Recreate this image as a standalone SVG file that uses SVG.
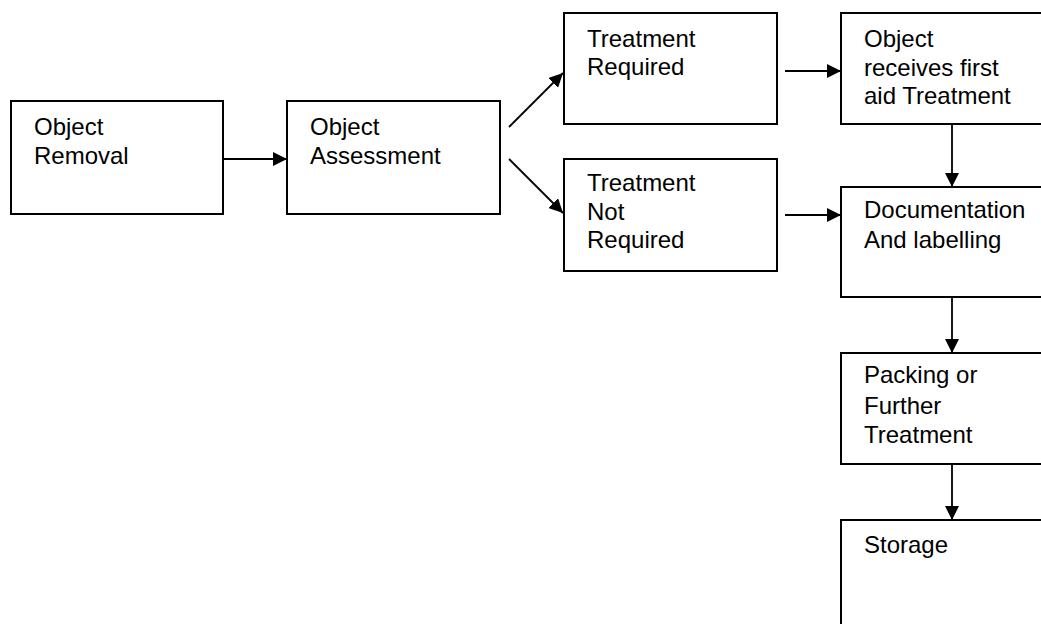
<svg xmlns="http://www.w3.org/2000/svg" width="1041" height="624" viewBox="0 0 1041 624">
<defs>
<style>
.box{fill:#fff;stroke:#000;stroke-width:2}
.t{font-family:"Liberation Sans",Arial,sans-serif;font-size:24px;fill:#000}
.c{stroke:#000;stroke-width:1.8;fill:none;marker-end:url(#ah)}
</style>
<marker id="ah" markerUnits="userSpaceOnUse" markerWidth="15" markerHeight="14" refX="14" refY="7" orient="auto">
<path d="M0,0 L14,7 L0,14 z" fill="#000"/>
</marker>
</defs>
<rect width="1041" height="624" fill="#fff"/>
<g id="connectors">
<line class="c" x1="224" y1="159" x2="287" y2="159"/>
<line class="c" x1="509" y1="127" x2="563" y2="73"/>
<line class="c" x1="509" y1="159" x2="563" y2="213"/>
<line class="c" x1="785" y1="71" x2="841" y2="71"/>
<line class="c" x1="785" y1="215" x2="841" y2="215"/>
<line class="c" x1="952" y1="124" x2="952" y2="187"/>
<line class="c" x1="952" y1="297" x2="952" y2="353"/>
<line class="c" x1="952" y1="464" x2="952" y2="520"/>
</g>
<g id="object-removal">
<rect class="box" x="11" y="101" width="212" height="113"/>
<text class="t"><tspan x="34" y="135">Object</tspan><tspan x="34" y="164">Removal</tspan></text>
</g>
<g id="object-assessment">
<rect class="box" x="287" y="101" width="213" height="113"/>
<text class="t"><tspan x="310" y="135">Object</tspan><tspan x="310" y="164">Assessment</tspan></text>
</g>
<g id="treatment-required">
<rect class="box" x="564" y="13" width="213" height="111"/>
<text class="t"><tspan x="587" y="47">Treatment</tspan><tspan x="587" y="75">Required</tspan></text>
</g>
<g id="treatment-not-required">
<rect class="box" x="564" y="159" width="213" height="112"/>
<text class="t"><tspan x="587" y="191">Treatment</tspan><tspan x="587" y="220">Not</tspan><tspan x="587" y="248">Required</tspan></text>
</g>
<g id="first-aid">
<rect class="box" x="841" y="13" width="220" height="111"/>
<text class="t"><tspan x="864" y="47">Object</tspan><tspan x="864" y="76">receives first</tspan><tspan x="864" y="104">aid Treatment</tspan></text>
</g>
<g id="documentation">
<rect class="box" x="841" y="187" width="220" height="110"/>
<text class="t"><tspan x="864" y="218">Documentation</tspan><tspan x="864" y="248">And labelling</tspan></text>
</g>
<g id="packing">
<rect class="box" x="841" y="353" width="220" height="111"/>
<text class="t"><tspan x="864" y="383">Packing or</tspan><tspan x="864" y="414">Further</tspan><tspan x="864" y="443">Treatment</tspan></text>
</g>
<g id="storage">
<rect class="box" x="841" y="520" width="220" height="130"/>
<text class="t"><tspan x="864" y="553">Storage</tspan></text>
</g>
</svg>
